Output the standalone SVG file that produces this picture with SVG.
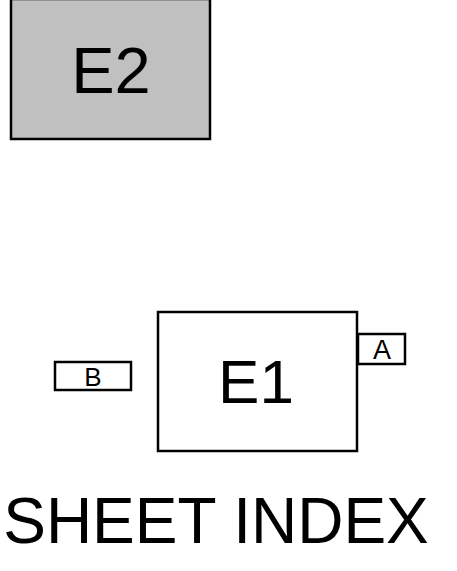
<svg xmlns="http://www.w3.org/2000/svg" width="457" height="571" viewBox="0 0 457 571">
<style>
.box{stroke:#000;stroke-width:2.5}
.t{font-family:"Liberation Sans",Arial,sans-serif;fill:#000;text-anchor:middle}
</style>
<rect width="457" height="571" fill="#fff"/>
<g id="E2">
<rect class="box" x="11" y="-1" width="199" height="140" fill="#c0c0c0"/>
<text class="t" x="111" y="93" font-size="65">E2</text>
</g>
<g id="E1">
<rect class="box" x="158" y="312" width="199" height="139" fill="#fff"/>
<text class="t" x="256" y="403" font-size="62">E1</text>
</g>
<g id="A">
<rect class="box" x="358" y="334" width="47" height="30" fill="#fff"/>
<text class="t" x="382" y="359" font-size="27">A</text>
</g>
<g id="B">
<rect class="box" x="55" y="362" width="76" height="28" fill="#fff"/>
<text class="t" x="93" y="386" font-size="26">B</text>
</g>
<g id="connectors"></g>
<text class="t" x="216" y="543" font-size="64">SHEET INDEX</text>
</svg>
